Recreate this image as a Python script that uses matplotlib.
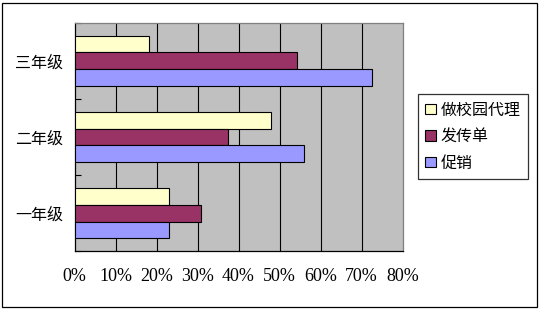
import matplotlib
matplotlib.use("Agg")
import matplotlib.pyplot as plt
from matplotlib.patches import Rectangle
import numpy as np

categories = ["一年级", "二年级", "三年级"]
series_names = ["做校园代理", "发传单", "促销"]
agent = [23.1, 48.0, 18.2]
flyers = [30.9, 37.5, 54.3]
promo = [23.1, 56.0, 72.6]
xticks = [0, 10, 20, 30, 40, 50, 60, 70, 80]
xtick_labels = [f"{v}%" for v in xticks]
colors = ["#FFFFCC", "#993366", "#9999FF"]

cjk = ["Noto Sans CJK SC", "DejaVu Sans"]

fig = plt.figure(figsize=(5.39, 3.10), dpi=100)
fig.patch.set_facecolor("white")
fig.patches.append(Rectangle((1.5/539, 3/310), 535/539, 304/310, transform=fig.transFigure,
                             fill=False, edgecolor="black", linewidth=0.9))

ax = fig.add_axes([74.5/539, 1-251.3/310, 328/539, 228.6/310])
ax.set_facecolor("#C0C0C0")

y = np.arange(len(categories))
h = 0.22
for vals, off, c, name in zip([agent, flyers, promo], [h, 0, -h], colors, series_names):
    ax.barh(y + off, vals, height=h, color=c, edgecolor="black", linewidth=0.8, label=name, zorder=3)

ax.set_xlim(0, 80)
ax.set_ylim(-0.5, 2.5)
ax.set_xticks(xticks)
ax.set_xticklabels(xtick_labels, family=["Liberation Serif"], fontsize=13)
for v in xticks[1:-1]:
    ax.axvline(v, color="black", linewidth=0.8, zorder=1)
ax.tick_params(axis="x", length=0, pad=12)

ax.set_yticks([-0.5, 0.5, 1.5, 2.5])
ax.set_yticklabels([])
ax.set_yticks(y, minor=True)
ax.set_yticklabels(categories, minor=True, family=cjk, fontsize=11.5)
ax.tick_params(axis="y", which="major", direction="in", length=4, width=0.8)
ax.tick_params(axis="y", which="minor", length=0, pad=8)

for s in ["left", "bottom"]:
    ax.spines[s].set_color("black")
    ax.spines[s].set_linewidth(0.9)
for s in ["top", "right"]:
    ax.spines[s].set_color("#808080")
    ax.spines[s].set_linewidth(0.9)

leg = fig.legend(loc="upper left", bbox_to_anchor=(418.3/539, 1-94.3/310),
                 prop={"family": cjk, "size": 11.5}, frameon=True, fancybox=False,
                 edgecolor="black", handlelength=0.65, handleheight=0.65,
                 handletextpad=0.3, labelspacing=0.6, borderpad=0.45, borderaxespad=0)
leg.get_frame().set_linewidth(0.9)

fig.savefig("out.png", dpi=100, facecolor="white")
